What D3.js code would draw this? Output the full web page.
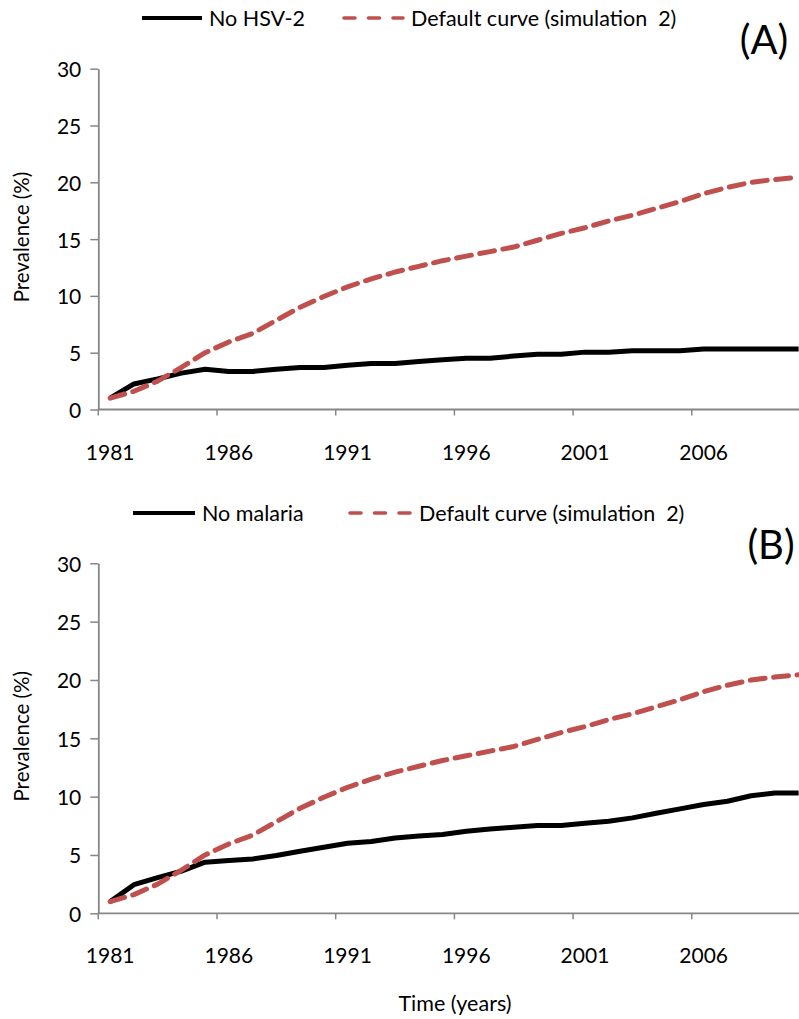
<!DOCTYPE html>
<html>
<head>
<meta charset="utf-8">
<script src="https://cdn.jsdelivr.net/npm/d3@7"></script>
<style>
  html, body { margin: 0; padding: 0; background: #fff; }
  svg { display: block; font-family: Lato, "Open Sans", sans-serif; }
</style>
</head>
<body>
<svg id="chart" width="799" height="1019"></svg>
<script>
// Simulation years (one category per year)
const years = d3.range(1981, 2011);
const labelYears = [1981, 1986, 1991, 1996, 2001, 2006];
const yTicks = [0, 5, 10, 15, 20, 25, 30];

// HIV prevalence (%) — default simulation, shared by both panels
const defaultCurve = [1.0, 1.6, 2.5, 3.7, 5.0, 5.95, 6.7, 7.85, 9.0, 9.95,
  10.8, 11.5, 12.1, 12.6, 13.1, 13.5, 13.9, 14.3, 14.9, 15.5,
  16.0, 16.6, 17.1, 17.7, 18.3, 19.0, 19.55, 20.0, 20.25, 20.45];

// Panel A: scenario without HSV-2
const noHSV2 = [1.0, 2.25, 2.7, 3.2, 3.55, 3.35, 3.35, 3.55, 3.7, 3.7,
  3.9, 4.05, 4.05, 4.22, 4.37, 4.52, 4.52, 4.7, 4.87, 4.87,
  5.05, 5.05, 5.17, 5.17, 5.17, 5.32, 5.32, 5.32, 5.32, 5.32];

// Panel B: scenario without malaria
const noMalaria = [1.0, 2.45, 3.05, 3.62, 4.38, 4.52, 4.66, 4.95, 5.32, 5.66,
  6.0, 6.15, 6.46, 6.63, 6.75, 7.03, 7.23, 7.37, 7.52, 7.52,
  7.72, 7.89, 8.18, 8.57, 8.95, 9.32, 9.6, 10.08, 10.32, 10.32];

const panels = [
  { tag: "(A)", label: "No HSV-2", series: noHSV2, top: 68.7, bottom: 409.5,
    legendY: 18, legendX: [142, 202, 209], dashX: [342, 405, 411], tagX: 764, tagY: 40 },
  { tag: "(B)", label: "No malaria", series: noMalaria, top: 563.3, bottom: 913.3,
    legendY: 513, legendX: [133, 195, 202], dashX: [348, 413, 419], tagX: 771, tagY: 545 }
];

const RED = "#C0504D";
const AXIS = "#868686";
const svg = d3.select("#chart");

const x = d3.scaleBand().domain(years).range([98.3, 98.3 + 30 * 23.74]).padding(0);
const cx = d => x(d) + x.bandwidth() / 2;

panels.forEach(p => {
  const g = svg.append("g");
  const y = d3.scaleLinear().domain([0, 30]).range([p.bottom, p.top]);

  // y axis
  const ya = g.append("g")
    .attr("transform", `translate(${x.range()[0]},0)`)
    .call(d3.axisLeft(y).tickValues(yTicks).tickSize(8).tickPadding(9).tickSizeOuter(0));
  ya.select(".domain").attr("stroke", AXIS).attr("stroke-width", 1.8);
  ya.selectAll(".tick line").attr("stroke", AXIS).attr("stroke-width", 1.5);
  ya.selectAll(".tick text").attr("font-size", 21).attr("fill", "#000")
    .attr("font-family", "Lato, sans-serif").attr("dy", "0.38em");

  // x axis: baseline, tick marks between categories, labels at category centres
  const xa = g.append("g").attr("transform", `translate(0,${p.bottom})`);
  xa.append("line").attr("x1", x.range()[0]).attr("x2", x.range()[1])
    .attr("stroke", AXIS).attr("stroke-width", 1.8);
  xa.selectAll("line.tk").data(labelYears).join("line").attr("class", "tk")
    .attr("x1", d => x(d)).attr("x2", d => x(d)).attr("y1", 0).attr("y2", 6)
    .attr("stroke", AXIS).attr("stroke-width", 1.5);
  xa.selectAll("text").data(labelYears).join("text")
    .attr("x", d => cx(d)).attr("y", 50).attr("text-anchor", "middle")
    .attr("font-size", 21).attr("fill", "#000").text(d => d);

  // y axis title
  g.append("text")
    .attr("transform", `translate(29,${(p.top + p.bottom) / 2 - 2}) rotate(-90)`)
    .attr("text-anchor", "middle").attr("font-size", 20.5).attr("fill", "#000")
    .text("Prevalence (%)");

  const line = d3.line().x((d, i) => cx(years[i])).y(d => y(d));

  g.append("path").datum(p.series).attr("d", line)
    .attr("fill", "none").attr("stroke", "#000").attr("stroke-width", 5)
    .attr("stroke-linejoin", "round");
  g.append("path").datum(defaultCurve).attr("d", line)
    .attr("fill", "none").attr("stroke", RED).attr("stroke-width", 5)
    .attr("stroke-linejoin", "round").attr("stroke-linecap", "round")
    .attr("stroke-dasharray", "15 8.5");

  // legend
  const lg = g.append("g");
  lg.append("line").attr("x1", p.legendX[0]).attr("x2", p.legendX[1])
    .attr("y1", p.legendY).attr("y2", p.legendY)
    .attr("stroke", "#000").attr("stroke-width", 4);
  lg.append("text").attr("x", p.legendX[2]).attr("y", p.legendY).attr("dy", "0.36em")
    .attr("font-size", 21.5).attr("fill", "#000").text(p.label);
  lg.append("line").attr("x1", p.dashX[0] + 2).attr("x2", p.dashX[1] - 2)
    .attr("y1", p.legendY).attr("y2", p.legendY)
    .attr("stroke", RED).attr("stroke-width", 3.6).attr("stroke-linecap", "round")
    .attr("stroke-dasharray", "11 13.5");
  lg.append("text").attr("x", p.dashX[2]).attr("y", p.legendY).attr("dy", "0.36em")
    .attr("font-size", 21.5).attr("fill", "#000").text("Default curve (simulation  2)")
    .attr("xml:space", "preserve").style("white-space", "pre");

  // panel tag
  g.append("text").attr("x", p.tagX).attr("y", p.tagY).attr("dy", "0.36em")
    .attr("text-anchor", "middle").attr("font-size", 40).attr("fill", "#000").text(p.tag);
});

// shared x axis title
svg.append("text").attr("x", 455).attr("y", 1003).attr("dy", "0.36em")
  .attr("text-anchor", "middle").attr("font-size", 21.5).attr("fill", "#000")
  .text("Time (years)");
</script>
</body>
</html>
